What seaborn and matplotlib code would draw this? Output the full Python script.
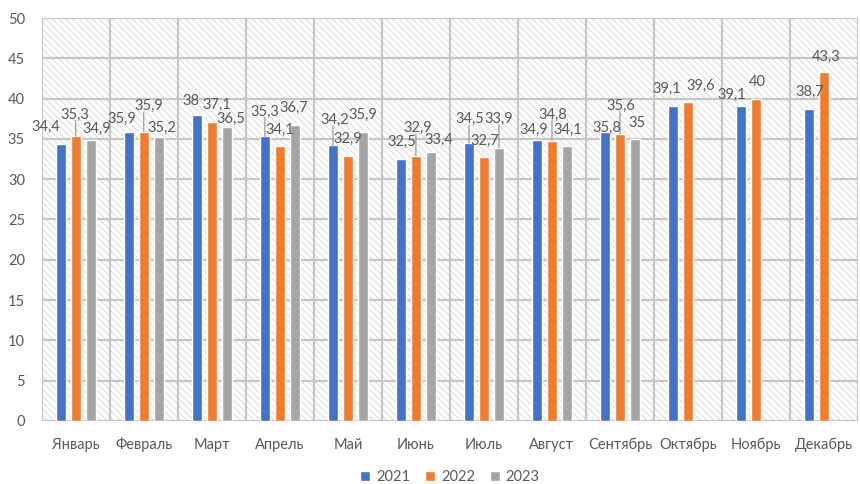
import numpy as np
import pandas as pd
import matplotlib
matplotlib.use("Agg")
import matplotlib.pyplot as plt
from matplotlib.patches import Rectangle
import seaborn as sns

months = ["Январь", "Февраль", "Март", "Апрель", "Май", "Июнь", "Июль",
          "Август", "Сентябрь", "Октябрь", "Ноябрь", "Декабрь"]
years = ["2021", "2022", "2023"]
v2021 = [34.4, 35.9, 38, 35.3, 34.2, 32.5, 34.5, 34.9, 35.8, 39.1, 39.1, 38.7]
v2022 = [35.3, 35.9, 37.1, 34.1, 32.9, 32.9, 32.7, 34.8, 35.6, 39.6, 40, 43.3]
v2023 = [34.9, 35.2, 36.5, 36.7, 35.9, 33.4, 33.9, 34.1, 35, np.nan, np.nan, np.nan]
y_ticks = [0, 5, 10, 15, 20, 25, 30, 35, 40, 45, 50]

# label placement nudges (pixels) mimicking the reference's label layout
lab_dx = [
    [-15, -7, -6, 0, 2, 1, 1, -3, 2, -6, -9, 1],
    [-1, 5, 5, 0, 0, 2, 1, 1, 1, 13, 1, 2],
    [6, 3, 4, -1, 0, 8, 0, 1, 2, 0, 0, 0],
]
lab_dy = [
    [0, 3.5, 2.5, -8.5, -8.5, -0.5, -7.5, 6.5, 12, 0, 5.5, -0.5],
    [-5.5, -9, -0.5, 0.5, -0.5, -11.5, -0.5, -9.5, -12, 0.5, -0.5, 1.5],
    [5.5, 7.5, 8.5, -0.5, 0, 4.5, -12.5, 0.5, 0.5, 0, 0, 0],
]

colors = ["#4472C4", "#ED7D31", "#A5A5A5"]
text_color = "#595959"
grid_color = "#c6c6c6"

df = pd.DataFrame({
    "month": months * 3,
    "year": sum([[y] * len(months) for y in years], []),
    "value": v2021 + v2022 + v2023,
})

sns.set_theme(style="white")
plt.rcParams["font.family"] = ["Lato", "DejaVu Sans"]
plt.rcParams["hatch.linewidth"] = 0.6

fig = plt.figure(figsize=(8.6, 4.84), dpi=100)
ax = fig.add_axes([0.0484, 0.1302, 0.9495, 0.8326])

# hatched plot background
bg = Rectangle((0, 0), 1, 1, transform=ax.transAxes, facecolor="white",
               edgecolor="#d6d6d6", hatch="\\\\\\\\\\", lw=0, zorder=0)
ax.add_patch(bg)

sns.barplot(data=df, x="month", y="value", hue="year", order=months,
            hue_order=years, palette=colors, width=0.66, gap=0.33,
            saturation=1, ax=ax, zorder=3, legend=True)

ax.set_xlim(-0.5, len(months) - 0.5)
ax.set_ylim(0, 50)
ax.set_yticks(y_ticks)
ax.set_xlabel("")
ax.set_ylabel("")
for s in ax.spines.values():
    s.set_visible(False)

ax.set_xticks(np.arange(-0.5, len(months), 1), minor=True)
ax.grid(True, axis="y", which="major", color=grid_color, lw=1.6, zorder=1)
ax.grid(True, axis="x", which="minor", color=grid_color, lw=1.6, zorder=1)
ax.grid(False, axis="x", which="major")
ax.set_axisbelow(True)
ax.tick_params(axis="both", which="both", length=0, colors=text_color,
               labelsize=10.5)
ax.tick_params(axis="x", pad=12)
ax.tick_params(axis="y", pad=12)

# data labels
px = 72 / 100  # pixels -> points
series = [v2021, v2022, v2023]
for hi, cont in enumerate(ax.containers):
    for mi, bar in enumerate(cont):
        val = series[hi][mi]
        if np.isnan(val):
            continue
        cx = bar.get_x() + bar.get_width() / 2
        dx = lab_dx[hi][mi]
        up = 16.5 - lab_dy[hi][mi]
        ax.annotate(f"{val:g}".replace(".", ","), (cx, val),
                    xytext=(dx * px, up * px), textcoords="offset points",
                    ha="center", va="center", fontsize=10.5,
                    color=text_color, zorder=5)
        if lab_dy[hi][mi] <= -5:
            ax.annotate("", (cx, val), xytext=(0, (up - 6) * px),
                        textcoords="offset points",
                        arrowprops=dict(arrowstyle="-", color="#a6a6a6",
                                        lw=1.0, shrinkA=0, shrinkB=0),
                        zorder=4)

leg = ax.legend(loc="upper center", bbox_to_anchor=(0.5, -0.09), ncol=3,
                frameon=False, fontsize=10.5, handlelength=0.7,
                handleheight=0.7, handletextpad=0.4, columnspacing=1.0)
for t in leg.get_texts():
    t.set_color(text_color)

fig.savefig("out.png", dpi=100)
